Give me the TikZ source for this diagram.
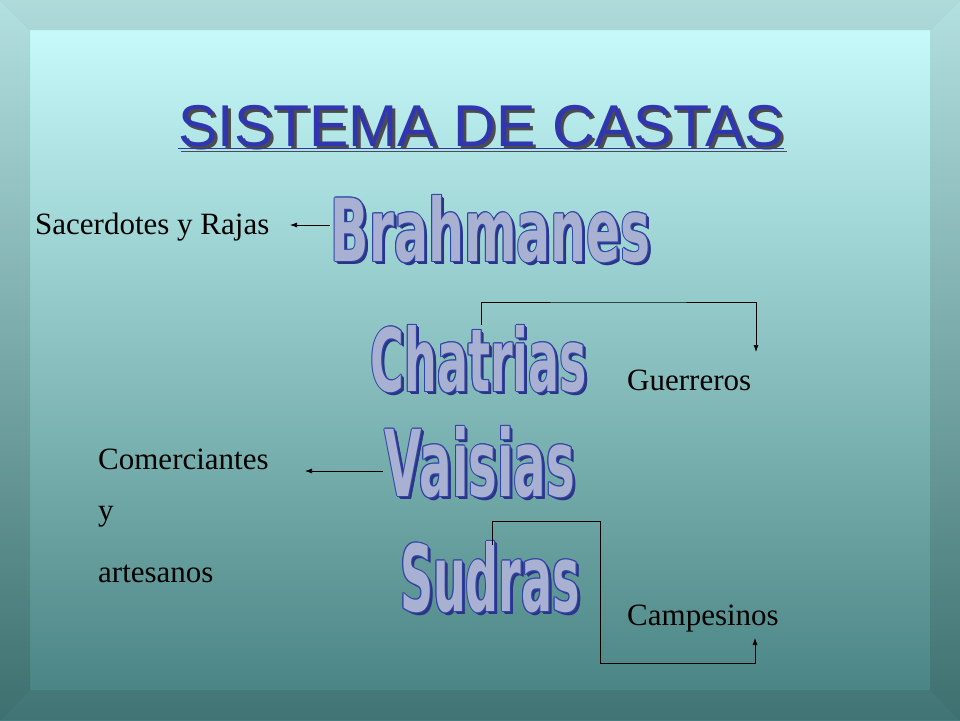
\documentclass[tikz,border=0pt]{standalone}
\usepackage{fontspec}
\setmainfont{Liberation Serif}
\newfontfamily\arialf{Liberation Sans}
\newfontfamily\wordf{DejaVu Sans}
\usepackage{graphicx}
\usetikzlibrary{arrows.meta}
\definecolor{wfill}{HTML}{A9B1D3}
\definecolor{wline}{HTML}{3444A6}
\definecolor{titlec}{HTML}{3035B0}
\tikzset{lbl/.style={anchor=west,font=\fontsize{31}{36}\selectfont,inner sep=0},
arr/.style={-{Latex[length=7pt,width=5pt]},black,line width=0.7pt}}
\newcommand{\wa}[5]{%
 \foreach \dx/\dy in {3/3,2.5/2.5,2/2,1.5/1.5}{\node[wline!80!black] at (#1+\dx,#2+\dy){\resizebox{#3pt}{#4pt}{\wordf\bfseries #5}};}
 \foreach \dx/\dy in {-1/0,1/0,0/-1,0/1,-0.7/-0.7,0.7/0.7,-0.7/0.7,0.7/-0.7}{\node[wline] at (#1+\dx,#2+\dy){\resizebox{#3pt}{#4pt}{\wordf\bfseries #5}};}
 \node[wfill] (#5) at (#1,#2){\resizebox{#3pt}{#4pt}{\wordf\bfseries #5}};}
\begin{document}
\begin{tikzpicture}[x=1pt,y=-1pt]
\shade[top color=cyan!20!white,bottom color=teal!45!gray] (0,0) rectangle (960,720);
\shade[top color=black,bottom color=black,middle color=black,opacity=0] (0,0) rectangle (1,1);
\fill[black,opacity=0.14] (0,0)--(960,0)--(930,30)--(30,30)--cycle;
\fill[black,opacity=0.12] (0,0)--(30,30)--(30,690)--(0,720)--cycle;
\fill[black,opacity=0.12] (960,0)--(930,30)--(930,690)--(960,720)--cycle;
\fill[black,opacity=0.08] (0,720)--(30,690)--(930,690)--(960,720)--cycle;
\node[gray!60!black] at (484,130){\arialf\fontsize{59}{66}\selectfont\underline{SISTEMA DE CASTAS}};
\node[titlec] (title) at (481,127){\arialf\fontsize{59}{66}\selectfont\underline{SISTEMA DE CASTAS}};
\wa{491}{229}{320}{66}{Brahmanes}
\wa{479}{359}{216}{66}{Chatrias}
\wa{480}{462}{190}{70}{Vaisias}
\wa{490}{577}{180}{70}{Sudras}
\node[lbl] (sac) at (35,227){Sacerdotes y Rajas};
\node[lbl] (gue) at (627,380){Guerreros};
\node[lbl] (com) at (98,459){Comerciantes};
\node[lbl] (yy) at (98,517){y};
\node[lbl] (art) at (98,574){artesanos};
\node[lbl] (cam) at (627,619){Campesinos};
\coordinate (a1) at (330,225); \coordinate (a2) at (290,225);
\draw[arr] (a1)--(a2);
\coordinate (b1) at (481,325); \coordinate (b2) at (756,352);
\draw[arr] (b1)|-(618,302)-|(b2);
\coordinate (c1) at (383,471); \coordinate (c2) at (305,471);
\draw[arr] (c1)--(c2);
\coordinate (d1) at (492,545); \coordinate (d2) at (755,638);
\draw[arr] (d1)|-(600,521)|-(755,663)--(d2);
\end{tikzpicture}
\end{document}
